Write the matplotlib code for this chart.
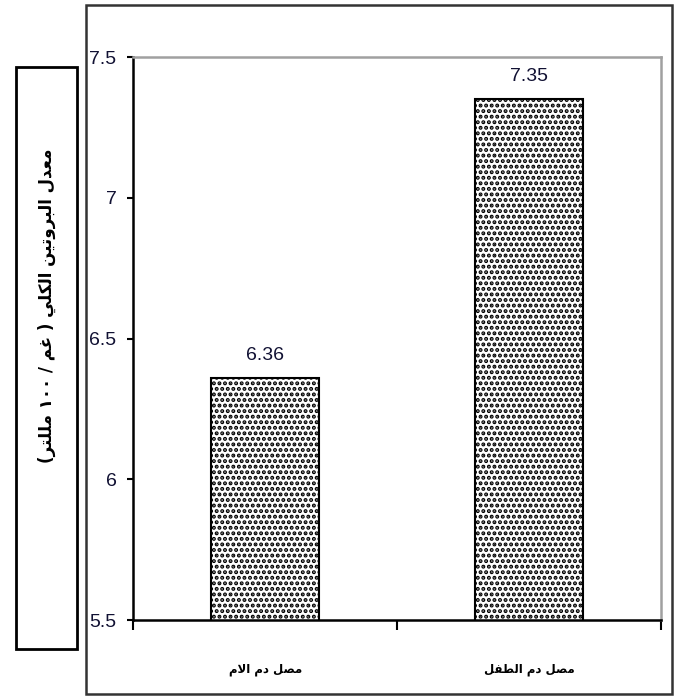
import re
import matplotlib
matplotlib.use("Agg")
import matplotlib.pyplot as plt
from matplotlib.patches import Rectangle

# Serum protein data
categories = ["مصل دم الام", "مصل دم الطفل"]
values = [6.36, 7.35]
value_labels = ["6.36", "7.35"]
y_ticks = [5.5, 6, 6.5, 7, 7.5]
y_tick_labels = ["5.5", "6", "6.5", "7", "7.5"]
y_label = "معدل البروتين الكلي ( غم / ١٠٠ مللتر)"

# Arabic presentation forms: isolated, final, initial, medial
FORMS = {
    'ا': ('\uFE8D', '\uFE8E', None, None),
    'ب': ('\uFE8F', '\uFE90', '\uFE91', '\uFE92'),
    'ت': ('\uFE95', '\uFE96', '\uFE97', '\uFE98'),
    'د': ('\uFEA9', '\uFEAA', None, None),
    'ر': ('\uFEAD', '\uFEAE', None, None),
    'ص': ('\uFEB9', '\uFEBA', '\uFEBB', '\uFEBC'),
    'ط': ('\uFEC1', '\uFEC2', '\uFEC3', '\uFEC4'),
    'ع': ('\uFEC9', '\uFECA', '\uFECB', '\uFECC'),
    'غ': ('\uFECD', '\uFECE', '\uFECF', '\uFED0'),
    'ف': ('\uFED1', '\uFED2', '\uFED3', '\uFED4'),
    'ك': ('\uFED9', '\uFEDA', '\uFEDB', '\uFEDC'),
    'ل': ('\uFEDD', '\uFEDE', '\uFEDF', '\uFEE0'),
    'م': ('\uFEE1', '\uFEE2', '\uFEE3', '\uFEE4'),
    'ن': ('\uFEE5', '\uFEE6', '\uFEE7', '\uFEE8'),
    'و': ('\uFEED', '\uFEEE', None, None),
    'ي': ('\uFEF1', '\uFEF2', '\uFEF3', '\uFEF4'),
}


def shape_arabic(text):
    out = []
    n = len(text)
    i = 0
    while i < n:
        c = text[i]
        if c not in FORMS:
            out.append(c)
            i += 1
            continue
        prev = text[i - 1] if i > 0 else None
        joins_prev = prev in FORMS and FORMS[prev][2] is not None
        if c == 'ل' and i + 1 < n and text[i + 1] == 'ا':
            out.append('\uFEFC' if joins_prev else '\uFEFB')
            i += 2
            continue
        nxt = text[i + 1] if i + 1 < n else None
        joins_next = FORMS[c][2] is not None and nxt in FORMS
        iso, fin, ini, med = FORMS[c]
        if joins_prev and joins_next:
            out.append(med)
        elif joins_prev:
            out.append(fin)
        elif joins_next:
            out.append(ini)
        else:
            out.append(iso)
        i += 1
    return ''.join(out)


def rtl(text):
    runs = re.findall(r'[0-9\u0660-\u0669]+|.', shape_arabic(text))
    mirror = {'(': ')', ')': '('}
    return ''.join(mirror.get(r, r) for r in runs[::-1])


num_font = ['Liberation Sans', 'DejaVu Sans']
ar_font = ['DejaVu Sans']
plt.rcParams['hatch.linewidth'] = 2.0

fig = plt.figure(figsize=(6.76, 6.96), dpi=100)
ax = fig.add_axes([0.197, 0.109, 0.781, 0.809])

x = list(range(len(categories)))
ax.bar(x, values, width=0.41, color='white', edgecolor='black',
       linewidth=1.5, hatch='...', zorder=2)
for xi, v, lab in zip(x, values, value_labels):
    ax.text(xi, v + 0.05, lab, ha='center', va='bottom', fontsize=14,
            family=num_font, color='#111133')

ax.set_xlim(-0.5, 1.5)
ax.set_ylim(5.5, 7.5)
ax.set_yticks(y_ticks)
ax.set_yticklabels(y_tick_labels, family=num_font, fontsize=14, color='#111133')
ax.tick_params(axis='y', direction='out', length=4, width=1.5, pad=8)

# boundary ticks between categories, labels under each bar
ax.set_xticks([-0.5, 0.5, 1.5])
ax.set_xticklabels([])
ax.tick_params(axis='x', which='major', direction='out', length=7, width=1.5)
ax.set_xticks(x, minor=True)
ax.set_xticklabels([rtl(c) for c in categories], minor=True,
                   family=ar_font, fontweight='bold', fontsize=8.5)
ax.tick_params(axis='x', which='minor', length=0, pad=31)

for side in ['left', 'bottom']:
    ax.spines[side].set_linewidth(1.8)
    ax.spines[side].set_color('black')
for side in ['top', 'right']:
    ax.spines[side].set_linewidth(1.8)
    ax.spines[side].set_color('#a0a0a0')

# outer chart frame
fig.patches.append(Rectangle((0.127, 0.003), 0.867, 0.99,
                             transform=fig.transFigure, fill=False,
                             edgecolor='#333333', linewidth=1.8))
# boxed y-axis title
fig.patches.append(Rectangle((0.024, 0.0675), 0.09, 0.836,
                             transform=fig.transFigure, fill=False,
                             edgecolor='black', linewidth=2))
fig.text(0.069, 0.56, rtl(y_label), rotation=90, ha='center', va='center',
         family=ar_font, fontweight='bold', fontsize=12)

fig.savefig('out.png', dpi=100)
